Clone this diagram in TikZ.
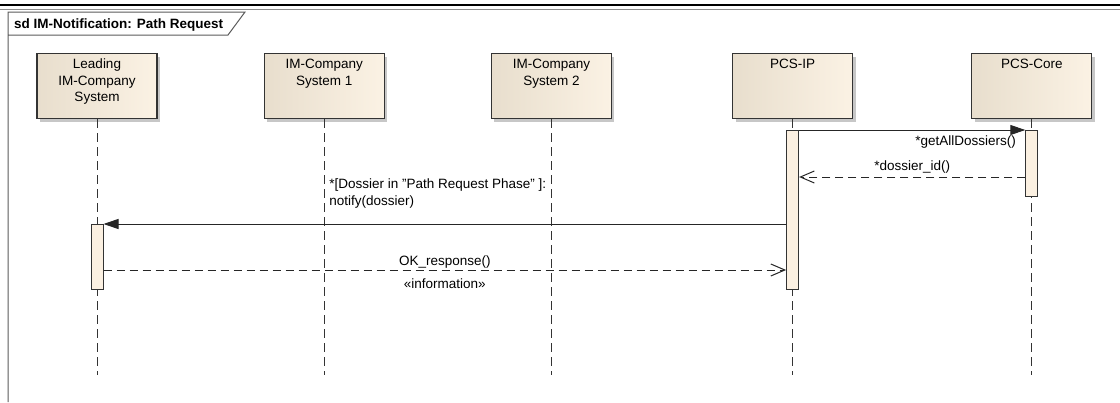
\documentclass[tikz,border=0pt]{standalone}
\usepackage{fontspec}
\setmainfont{Liberation Sans}
\usetikzlibrary{positioning,arrows.meta,shadows}

\definecolor{headleft}{RGB}{232,222,205}
\definecolor{headright}{RGB}{251,242,228}
\definecolor{barfill}{RGB}{251,240,225}
\definecolor{framegray}{RGB}{90,90,90}

\begin{document}
\begin{tikzpicture}[x=1pt, y=-1pt,
    font=\fontsize{13.5}{16.5}\selectfont,
    node distance=106pt,
    head/.style={draw=black!80, line width=1.2pt,
        left color=headleft, right color=headright,
        minimum width=120pt, minimum height=65pt, inner sep=0pt,
        drop shadow={shadow xshift=3pt, shadow yshift=-3pt, fill=black!22, opacity=1}},
    headtext/.style={anchor=north, align=center, inner sep=6pt},
    actbar/.style={draw=black!80, fill=barfill, line width=1pt,
        minimum width=12pt, inner sep=0pt, anchor=north},
    lifeline/.style={draw=black!80, line width=1pt, dash pattern=on 9pt off 5pt},
    call/.style={draw=black!85, line width=1pt, -{Triangle[length=15pt, width=10pt]}},
    reply/.style={draw=black!85, line width=1pt, dash pattern=on 8pt off 5pt,
        -{Straight Barb[length=14pt, width=12pt]}},
    msglbl/.style={inner sep=0pt}]
    \useasboundingbox (0,0) rectangle (1120,402);

    % page rule and frame
    \draw[line width=2.5pt] (0,5) -- (1120,5);
    \draw[black!45, line width=1.5pt] (0,9.5) -- (1120,9.5);
    \node[font=\bfseries\fontsize{13.5}{16}\selectfont, anchor=base west, inner sep=0pt]
        (title) at (14,28) {sd IM-Notification: Path Request};
    \draw[framegray, line width=1pt] (8,402) -- (8,12) -- (245,12) -- (228,35) -- (8,35);

    % lifeline heads
    \node[head, anchor=north] (lead) at (97,53) {};
    \node[head, right=of lead] (sys1) {};
    \node[head, right=of sys1] (sys2) {};
    \node[head, right=120pt of sys2] (pcsip) {};
    \node[head, right=118pt of pcsip] (core) {};
    \node[headtext] (lead-t) at (lead.north) {Leading\\IM-Company\\System};
    \node[headtext] (sys1-t) at (sys1.north) {IM-Company\\System 1};
    \node[headtext] (sys2-t) at (sys2.north) {IM-Company\\System 2};
    \node[headtext] (pcsip-t) at (pcsip.north) {PCS-IP};
    \node[headtext] (core-t) at (core.north) {PCS-Core};

    \coordinate (llend) at (0,375);
    \foreach \n in {lead,sys1,sys2,pcsip,core}
        \draw[lifeline] (\n.south) -- (\n.south |- llend);

    % message levels
    \coordinate (m1) at (0,130);
    \coordinate (m2) at (0,177);
    \coordinate (m3) at (0,224);
    \coordinate (m4) at (0,270);

    % activations
    \node[actbar, minimum height=159pt] (ipbar) at (pcsip.south |- m1) {};
    \node[actbar, minimum height=66pt] (corebar) at (core.south |- m1) {};
    \node[actbar, minimum height=65pt] (leadbar) at (lead.south |- m3) {};

    % messages
    \draw[call] (ipbar.east |- m1) -- (corebar.west |- m1)
        node[msglbl, pos=1, anchor=base east, xshift=-9pt, yshift=-15pt] (getlbl) {*getAllDossiers()};
    \draw[reply] (corebar.west |- m2) -- (ipbar.east |- m2)
        node[msglbl, midway, anchor=base, yshift=7pt] (idlbl) {*dossier\_id()};
    \draw[call] (ipbar.west |- m3) -- (leadbar.east |- m3);
    \node[msglbl, anchor=south west, align=left, font=\fontsize{13.5}{17}\selectfont,
        xshift=5pt, yshift=16pt] (notifylbl) at (sys1.south |- m3)
        {*[Dossier in \symbol{34}Path Request Phase\symbol{34} ]:\\notify(dossier)};
    \draw[reply] (leadbar.east |- m4) -- (ipbar.west |- m4)
        node[msglbl, midway, anchor=base, yshift=5pt] (oklbl) {OK\_response()}
        node[msglbl, midway, anchor=base, yshift=-18pt] (infolbl) {«information»};
\end{tikzpicture}
\end{document}
